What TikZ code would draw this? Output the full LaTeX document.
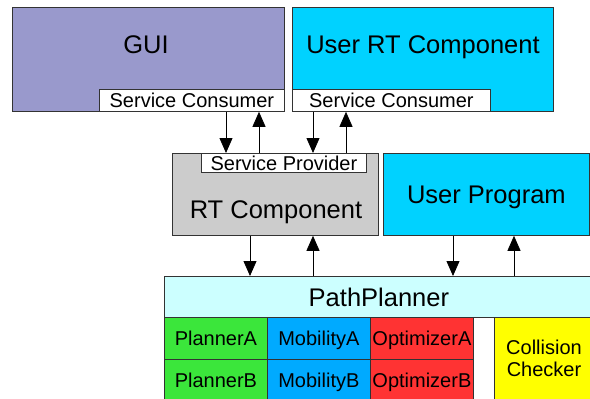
\documentclass[tikz,border=0pt]{standalone}
\usepackage{fontspec}
\setmainfont{Liberation Sans}
\usetikzlibrary{arrows.meta}
\definecolor{guiblue}{RGB}{153,153,204}
\definecolor{usercyan}{RGB}{0,210,255}
\definecolor{rtgray}{RGB}{204,204,204}
\definecolor{pplight}{RGB}{204,255,255}
\definecolor{plgreen}{RGB}{59,230,59}
\definecolor{mobblue}{RGB}{0,170,255}
\definecolor{optred}{RGB}{255,51,51}
\definecolor{ccyellow}{RGB}{255,255,0}
\tikzset{
  box/.style={draw=black!80,line width=0.8pt,anchor=north west,inner sep=0pt,
    text height=14.3pt,text depth=0pt,font=\fontsize{20}{22}\selectfont},
  bigbox/.style={box,text height=18.3pt,font=\fontsize{25.5}{28}\selectfont},
  bigtext/.style={anchor=base,inner sep=0pt,font=\fontsize{25.5}{28}\selectfont},
  flow/.style={-{Triangle[length=15pt,width=13pt]},line width=0.8pt}
}
\begin{document}
\begin{tikzpicture}[x=1pt,y=-1pt]
\useasboundingbox (0,0) rectangle (590,399);
\clip (0,0) rectangle (590,399);
% top row
\node[box,fill=guiblue,minimum width=272.5pt,minimum height=104pt] (gui)at(11.5,7){};
\node[bigtext] (guit)at(146,53){GUI};
\node[box,fill=white,minimum width=185pt,minimum height=22pt] (gsc)at(99,89){Service Consumer};
\node[box,fill=usercyan,minimum width=261pt,minimum height=104pt] (urt)at(292,7){};
\node[bigtext] (urtt)at(423,53){User RT Component};
\node[box,fill=white,minimum width=198pt,minimum height=22pt] (usc)at(292,89){Service Consumer};
% middle row
\node[box,fill=rtgray,minimum width=206pt,minimum height=82pt] (rtc)at(172,153){};
\node[bigtext] (rtct)at(276,218){RT Component};
\node[box,fill=white,minimum width=165pt,minimum height=19pt] (sp)at(201,153){Service Provider};
\node[bigbox,fill=usercyan,minimum width=206pt,minimum height=82pt] (up)at(383,153){User Program};
% path planner
\node[bigbox,fill=pplight,minimum width=432pt,minimum height=41pt] (pp)at(164,276){\hspace*{-3pt}PathPlanner};
\node[box,fill=plgreen,minimum width=103pt,minimum height=42pt] (pa)at(164,317){PlannerA};
\node[box,fill=plgreen,minimum width=103pt,minimum height=42pt] (pb)at(164,359){PlannerB};
\node[box,fill=mobblue,minimum width=103pt,minimum height=42pt] (ma)at(267,317){MobilityA};
\node[box,fill=mobblue,minimum width=103pt,minimum height=42pt] (mb)at(267,359){MobilityB};
\node[box,fill=optred,minimum width=103pt,minimum height=42pt] (oa)at(370,317){OptimizerA};
\node[box,fill=optred,minimum width=103pt,minimum height=42pt] (ob)at(370,359){OptimizerB};
\node[box,fill=ccyellow,minimum width=102pt,minimum height=90pt] (cc)at(494,317){};
\node[align=center,inner sep=0pt,font=\fontsize{20}{22}\selectfont] (cct)at(544,358){Collision\\Checker};
% connectors
\coordinate (g1)at(226,0); \coordinate (g2)at(259,0);
\coordinate (u1)at(313,0); \coordinate (u2)at(346,0);
\coordinate (r1)at(250,0); \coordinate (r2)at(313,0);
\coordinate (p1)at(453,0); \coordinate (p2)at(514,0);
\draw[flow] (gsc.south -| g1) -- (sp.north -| g1);
\draw[flow] (sp.north -| g2) -- (gsc.south -| g2);
\draw[flow] (usc.south -| u1) -- (sp.north -| u1);
\draw[flow] (sp.north -| u2) -- (usc.south -| u2);
\draw[flow] (rtc.south -| r1) -- (pp.north -| r1);
\draw[flow] (pp.north -| r2) -- (rtc.south -| r2);
\draw[flow] (up.south -| p1) -- (pp.north -| p1);
\draw[flow] (pp.north -| p2) -- (up.south -| p2);
\end{tikzpicture}
\end{document}
